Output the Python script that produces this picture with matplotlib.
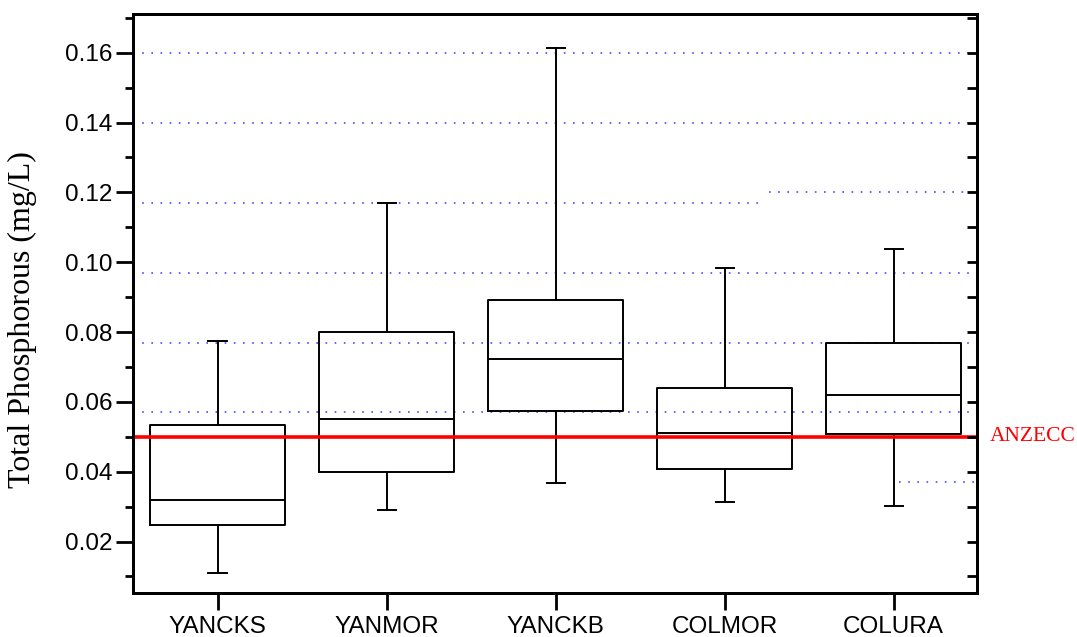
import matplotlib.pyplot as plt
from matplotlib.ticker import MultipleLocator, FormatStrFormatter
from matplotlib.transforms import blended_transform_factory

# box summaries (mg/L)
sites = ["YANCKS", "YANMOR", "YANCKB", "COLMOR", "COLURA"]
whisker_lo = [0.0109, 0.0290, 0.0368, 0.0314, 0.0302]
q1 = [0.0247, 0.0398, 0.0573, 0.0408, 0.0508]
median = [0.0318, 0.0550, 0.0722, 0.0510, 0.0619]
q3 = [0.0533, 0.0800, 0.0891, 0.0639, 0.0770]
whisker_hi = [0.0775, 0.1170, 0.1613, 0.0984, 0.1039]

anzecc = 0.05

# dotted reference lines: level, start, end (in category units)
grid_levels = [0.16, 0.14, 0.117, 0.097, 0.077, 0.057, 0.12, 0.037]
grid_start = [0.5, 0.5, 0.5, 0.5, 0.5, 0.5, 4.26, 5.03]
grid_end = [5.49, 5.49, 4.225, 5.49, 5.49, 5.49, 5.49, 5.49]

fig = plt.figure(figsize=(10.77, 6.37), dpi=100)
ax = fig.add_axes([133 / 1077, 1 - 592.7 / 637, 843.5 / 1077, 578.7 / 637])

positions = list(range(1, len(sites) + 1))

# gridlines first so the boxes sit on top
for lev, x0, x1 in zip(grid_levels, grid_start, grid_end):
    ax.plot([x0, x1], [lev, lev], color="#2a2aff", alpha=0.85, lw=1.2,
            linestyle=(0, (1, 4.5)), zorder=1)

stats = []
for i in range(len(sites)):
    stats.append({"whislo": whisker_lo[i], "q1": q1[i], "med": median[i],
                  "q3": q3[i], "whishi": whisker_hi[i], "fliers": []})

line = {"color": "black", "linewidth": 1.4}
ax.bxp(stats, positions=positions, widths=0.8, capwidths=0.107,
       showfliers=False, boxprops=line, whiskerprops=line, capprops=line,
       medianprops=line, zorder=3)

ax.axhline(anzecc, color="red", lw=2.6, zorder=4)
trans = blended_transform_factory(ax.transAxes, ax.transData)
ax.text(1.016, anzecc, "ANZECC", transform=trans, color="red",
        family="Liberation Serif", fontsize=15.5, ha="left", va="center")

ax.set_xlim(0.5, 5.49)
ax.set_ylim(0.00534, 0.1711)
ax.set_xticks(positions)
ax.set_xticklabels(sites, family="Liberation Sans", fontsize=17.5)

ax.yaxis.set_major_locator(MultipleLocator(0.02))
ax.yaxis.set_minor_locator(MultipleLocator(0.01))
ax.yaxis.set_major_formatter(FormatStrFormatter("%.2f"))
for lab in ax.get_yticklabels():
    lab.set_family("Liberation Sans")
    lab.set_fontsize(17.5)

ax.tick_params(axis="y", which="major", direction="out", length=12, width=2, pad=3)
ax.tick_params(axis="y", which="minor", direction="out", length=6, width=2)
ax.tick_params(axis="x", direction="out", length=12, width=2, pad=5)

# right side ticks point inward
ax2 = ax.twinx()
ax2.set_ylim(ax.get_ylim())
ax2.yaxis.set_major_locator(MultipleLocator(0.02))
ax2.yaxis.set_minor_locator(MultipleLocator(0.01))
ax2.tick_params(axis="y", which="both", direction="in", length=7, width=2,
                labelright=False)

for a in (ax, ax2):
    for s in a.spines.values():
        s.set_linewidth(2)

fig.text(22 / 1077, 1 - 320 / 637, "Total Phosphorous (mg/L)", rotation=90,
         ha="center", va="center", family="Liberation Serif", fontsize=23)

fig.savefig("out.png", dpi=100)
